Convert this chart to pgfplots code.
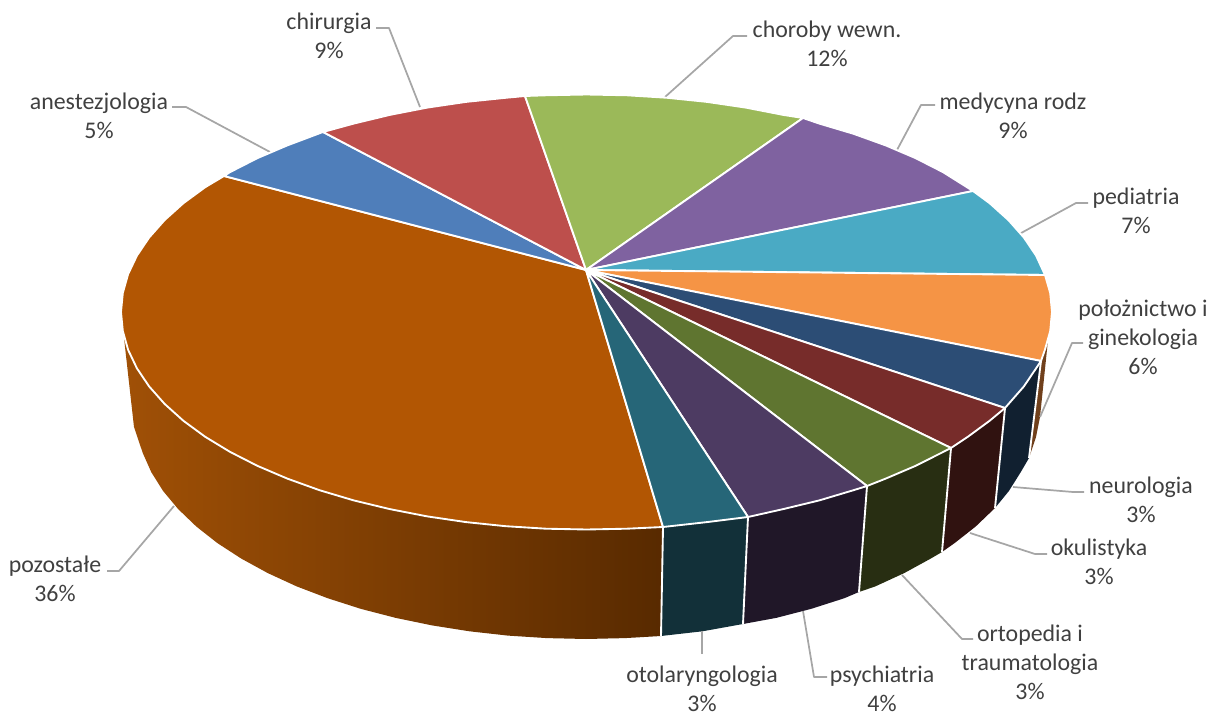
\documentclass[border=0pt]{standalone}
\usepackage{fontspec}
\setmainfont{Carlito}
\usepackage{pgfplots}
\pgfplotsset{compat=1.18}
\definecolor{txt}{HTML}{404040}
\definecolor{lead}{HTML}{A6A6A6}
\tikzset{
	wedge/.style={draw=white, line width=1.4pt, line join=round},
	side/.style={draw=none},
	sep/.style={draw=white, line width=1.4pt},
	leader/.style={draw=lead, line width=1.3pt, line join=round},
	lbl/.style={text=txt, align=center, inner sep=0pt, font=\fontsize{17.9}{21.75}\selectfont},
}
\begin{document}
\begin{tikzpicture}
\begin{axis}[
	x=0.75pt, y=0.75pt,
	xmin=0, xmax=1220, ymin=0, ymax=716,
	y dir=reverse,
	hide axis,
	clip=false,
	scale only axis,
]
% keeps the page as large as the whole picture
\addplot[draw=none] coordinates {(0,0)(1220,716)};
% side faces
\addplot[side, left color={rgb,255:red,160;green,80;blue,6}, right color={rgb,255:red,88;green,42;blue,0}] coordinates {
	(663,527)(627.1,528.7)(586.5,529.5)(545.9,528.7)(505.7,526.2)(466,522.1)(427.3,516.4)(389.8,509.1)
	(353.7,500.4)(319.5,490.2)(287.3,478.6)(257.3,465.8)(229.9,451.8)(205.2,436.8)(183.4,420.8)(164.6,403.9)
	(149.1,386.4)(136.9,368.3)(128.1,349.8)(124,338)(134,427)
	(142.8,453.1)(151.3,472.2)(163.1,491)(178.2,509.1)(196.3,526.5)(217.4,543.1)(241.3,558.6)(267.8,573.1)
	(296.7,586.4)(327.9,598.3)(361,608.9)(395.8,617.9)(432.1,625.4)(469.5,631.3)(507.9,635.6)(546.8,638.1)
	(586,639)(625.2,638.1)(661,636)} --cycle;
\addplot[side, fill={rgb,255:red,18;green,48;blue,57}] coordinates {
	(748,517)(707,522.1)(663,527)(661,636)(702.5,631.3)(743,624)} --cycle;
\addplot[side, fill={rgb,255:red,32;green,23;blue,40}] coordinates {
	(867,486)(853.5,490.2)(819.3,500.4)(783.2,509.1)(748,517)(743,624)(776.2,617.9)(811,608.9)(844.1,598.3)(859,592)} --cycle;
\addplot[side, fill={rgb,255:red,40;green,46;blue,18}] coordinates {
	(951,448)(915.7,465.8)(885.7,478.6)(867,486)(859,592)(875.3,586.4)(904.2,573.1)(930.7,558.6)(942,552)} --cycle;
\addplot[side, fill={rgb,255:red,48;green,18;blue,16}] coordinates {
	(1005,408)(989.6,420.8)(967.8,436.8)(951,448)(942,552)(954.6,543.1)(975.7,526.5)(995,508)} --cycle;
\addplot[side, fill={rgb,255:red,17;green,32;blue,48}] coordinates {
	(1041,361)(1036.1,368.3)(1023.9,386.4)(1005,408)(995,508)(1008.9,491)(1020.7,472.2)(1029,458)} --cycle;
\addplot[side, fill={rgb,255:red,112;green,64;blue,28}] coordinates {
	(1048,340)(1041,361)(1029,458)(1036,437)(1040,417)} --cycle;
% white edges between the side faces
\addplot[sep] coordinates {(663,527)(661,636)};
\addplot[sep] coordinates {(748,517)(743,624)};
\addplot[sep] coordinates {(867,486)(859,592)};
\addplot[sep] coordinates {(951,448)(942,552)};
\addplot[sep] coordinates {(1005,408)(995,508)};
\addplot[sep] coordinates {(1041,361)(1029,458)};
% leader lines
\addplot[leader] coordinates {(172,107)(186,107)(270,152)};
\addplot[leader] coordinates {(376,28)(389,28)(420,107)};
\addplot[leader] coordinates {(747,36)(733,36)(665,97)};
\addplot[leader] coordinates {(935,105)(921,105)(897,150)};
\addplot[leader] coordinates {(1088,203)(1076,203)(1012,238)};
\addplot[leader] coordinates {(1083,343)(1072,343)(1040,417)};
\addplot[leader] coordinates {(1084,492)(1073,492)(1013,487)};
\addplot[leader] coordinates {(1047,554)(1035,554)(970,533)};
\addplot[leader] coordinates {(973,639)(962,639)(902,575)};
\addplot[leader] coordinates {(827,677)(814,677)(803,611)};
\addplot[leader] coordinates {(702,654)(702,631)};
\addplot[leader] coordinates {(107,571)(119,571)(174,506)};
% top face, one wedge for each category
\addplot[wedge, fill={rgb,255:red,178;green,86;blue,3}] coordinates {
	(586,270)(663,527)(627.1,528.7)(586.5,529.5)(545.9,528.7)(505.7,526.2)(466,522.1)(427.3,516.4)(389.8,509.1)
	(353.7,500.4)(319.5,490.2)(287.3,478.6)(257.3,465.8)(229.9,451.8)(205.2,436.8)(183.4,420.8)(164.6,403.9)
	(149.1,386.4)(136.9,368.3)(128.1,349.8)(122.8,331)(121,312)(122.8,293)(128.1,274.2)(136.9,255.7)
	(149.1,237.6)(164.6,220.1)(183.4,203.2)(205.2,187.2)(224,176)} --cycle;
\addplot[wedge, fill={rgb,255:red,79;green,126;blue,186}] coordinates {
	(586,270)(224,176)(229.9,172.2)(257.3,158.2)(287.3,145.4)(323,132)} --cycle;
\addplot[wedge, fill={rgb,255:red,189;green,79;blue,76}] coordinates {
	(586,270)(323,132)(353.7,123.6)(389.8,114.9)(427.3,107.6)(466,101.9)(505.7,97.8)(525,96)} --cycle;
\addplot[wedge, fill={rgb,255:red,155;green,185;blue,89}] coordinates {
	(586,270)(525,96)(545.9,95.3)(586.5,94.5)(627.1,95.3)(667.3,97.8)(707,101.9)(745.7,107.6)(783.2,114.9)(803,118)} --cycle;
\addplot[wedge, fill={rgb,255:red,127;green,98;blue,160}] coordinates {
	(586,270)(803,118)(819.3,123.6)(853.5,133.8)(885.7,145.4)(915.7,158.2)(943.1,172.2)(973,191)} --cycle;
\addplot[wedge, fill={rgb,255:red,74;green,170;blue,196}] coordinates {
	(586,270)(973,191)(989.6,203.2)(1008.4,220.1)(1023.9,237.6)(1036.1,255.7)(1045,275)} --cycle;
\addplot[wedge, fill={rgb,255:red,245;green,148;blue,69}] coordinates {
	(586,270)(1045,275)(1050.2,293)(1052,312)(1050.2,331)(1044.9,349.8)(1041,361)} --cycle;
\addplot[wedge, fill={rgb,255:red,44;green,77;blue,117}] coordinates {
	(586,270)(1041,361)(1036.1,368.3)(1023.9,386.4)(1005,408)} --cycle;
\addplot[wedge, fill={rgb,255:red,119;green,44;blue,42}] coordinates {
	(586,270)(1005,408)(989.6,420.8)(967.8,436.8)(951,448)} --cycle;
\addplot[wedge, fill={rgb,255:red,95;green,117;blue,48}] coordinates {
	(586,270)(951,448)(915.7,465.8)(885.7,478.6)(867,486)} --cycle;
\addplot[wedge, fill={rgb,255:red,77;green,59;blue,98}] coordinates {
	(586,270)(867,486)(853.5,490.2)(819.3,500.4)(783.2,509.1)(748,517)} --cycle;
\addplot[wedge, fill={rgb,255:red,38;green,102;blue,120}] coordinates {
	(586,270)(748,517)(707,522.1)(663,527)} --cycle;
% labels
\node[lbl] at (axis cs:99,116) {anestezjologia\\5\%};
\node[lbl] at (axis cs:329,36) {chirurgia\\9\%};
\node[lbl] at (axis cs:827,44) {choroby wewn.\\12\%};
\node[lbl] at (axis cs:1013,116) {medycyna rodz\\9\%};
\node[lbl] at (axis cs:1136,211) {pediatria\\7\%};
\node[lbl] at (axis cs:1143,337) {położnictwo i\\ginekologia\\6\%};
\node[lbl] at (axis cs:1141,500) {neurologia\\3\%};
\node[lbl] at (axis cs:1099,562) {okulistyka\\3\%};
\node[lbl] at (axis cs:1030,662) {ortopedia i\\traumatologia\\3\%};
\node[lbl] at (axis cs:882,689) {psychiatria\\4\%};
\node[lbl] at (axis cs:702,689) {otolaryngologia\\3\%};
\node[lbl] at (axis cs:55,579) {pozostałe\\36\%};
\end{axis}
\end{tikzpicture}
\end{document}
